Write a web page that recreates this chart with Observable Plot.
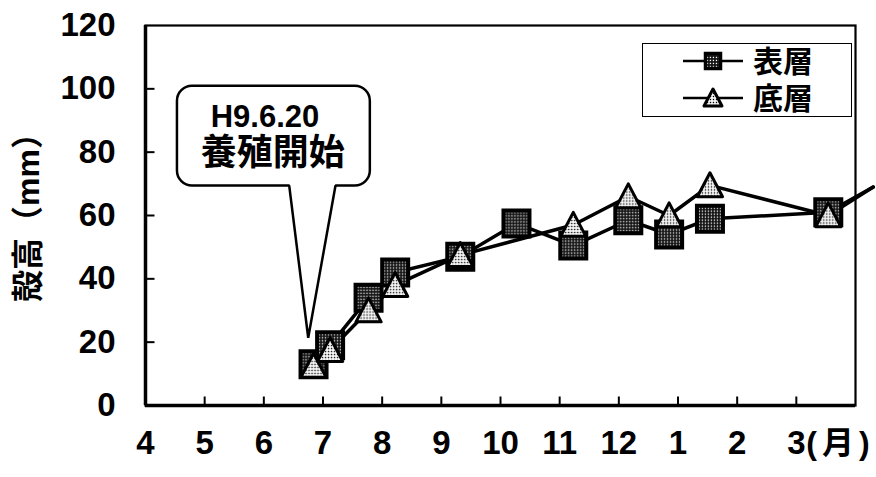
<!DOCTYPE html>
<html><head><meta charset="utf-8">
<script src="https://cdn.jsdelivr.net/npm/d3@7"></script>
<script src="https://cdn.jsdelivr.net/npm/@observablehq/plot@0.6"></script>
<style>
body{margin:0;background:#fff;}
#wrap{position:relative;width:876px;height:477px;}
</style></head><body>
<svg width="0" height="0" style="position:absolute"><defs>
<pattern id="sqPat" patternUnits="userSpaceOnUse" width="3" height="3"><rect width="3" height="3" fill="#111"/><rect x="0.8" y="0.8" width="1.3" height="1.3" fill="#fff"/></pattern>
<pattern id="triPat" patternUnits="userSpaceOnUse" width="3" height="3"><rect width="3" height="3" fill="#fff"/><rect x="0.8" y="0.8" width="1.4" height="1.4" fill="#000"/></pattern>
</defs></svg>
<div id="wrap"></div>
<script>
// ---- data ----
const monthLabels = ["4","5","6","7","8","9","10","11","12","1","2","3"];
const monthUnit = "(月)";
const yTicks = [0, 20, 40, 60, 80, 100, 120];
const seriesNames = ["表層", "底層"];
const yTitle = "殻高（mm）";
// sampling time, in months after 1 April
const surfaceX = [2.84, 3.12, 3.77, 4.22, 5.32, 6.27, 7.23, 8.16, 8.85, 9.54, 11.54, 12.3];
const surfaceY = [13, 19, 34, 42, 47, 57.5, 50.5, 58.5, 54, 59, 61, 69];
const bottomX = [2.84, 3.12, 3.77, 4.22, 5.32, 7.23, 8.16, 8.85, 9.54, 11.54, 12.3];
const bottomY = [12.5, 17.5, 30, 38, 47.5, 57, 66, 60, 69.5, 60, 69];
const calloutLines = ["H9.6.20", "養殖開始"];
const calloutBox = [{x1: 0.54, x2: 3.80, y1: 69.3, y2: 100.8}];
const calloutPointer = [[2.43, 69.3], [2.75, 21.4], [3.21, 69.3]];
const calloutTextAt = [[2.02, 91.0], [2.15, 79.7]];

// ---- build ----
const surface = surfaceX.map((x, i) => ({x, y: surfaceY[i]}));
const bottom = bottomX.map((x, i) => ({x, y: bottomY[i]}));
const inDomain = d => d.x <= 12;
const FONT = "'Liberation Sans', 'Noto Sans CJK JP', sans-serif";

const sqSym = {draw(ctx, size) { const r = Math.sqrt(size / Math.PI); ctx.rect(-r, -r, 2 * r, 2 * r); }};
const triSym = {draw(ctx, size) { const r = Math.sqrt(size / Math.PI); ctx.moveTo(0, -r); ctx.lineTo(r, 0.9 * r); ctx.lineTo(-r, 0.9 * r); ctx.closePath(); }};
const hTick = {draw(ctx) { ctx.moveTo(0, 0); ctx.lineTo(9, 0); }};
const vTick = {draw(ctx) { ctx.moveTo(0, 0); ctx.lineTo(0, -9); }};

const pointerFill = calloutPointer.map((p, i) => i === 1 ? p : [p[0], p[1] + 0.7]);

const plot = Plot.plot({
  width: 876, height: 477,
  marginLeft: 145, marginRight: 21, marginTop: 25, marginBottom: 72,
  x: {domain: [0, 12], axis: null},
  y: {domain: [0, 120], axis: null},
  style: {fontFamily: FONT, background: "white", overflow: "visible", color: "black"},
  marks: [
    Plot.frame({stroke: "black", strokeWidth: 2.2}),
    Plot.ruleX([0], {stroke: "black", strokeWidth: 3.5}),
    Plot.ruleY([0], {stroke: "black", strokeWidth: 3.5}),
    Plot.dot(monthLabels.slice(1), {x: (d, i) => i + 1, y: 0, symbol: vTick, r: 5, fill: "none", stroke: "black", strokeWidth: 2}),
    Plot.dot(yTicks.slice(1, -1), {x: 0, y: d => d, symbol: hTick, r: 5, fill: "none", stroke: "black", strokeWidth: 2}),
    Plot.text(yTicks, {y: d => d, frameAnchor: "left", dx: -30, textAnchor: "end", text: d => String(d), fontSize: 33, fontWeight: "bold", fill: "black"}),
    Plot.text(monthLabels, {x: (d, i) => i, frameAnchor: "bottom", dy: 48, text: d => d, fontSize: 33, fontWeight: "bold", fill: "black"}),
    Plot.text([monthUnit], {x: 11, frameAnchor: "bottom", dy: 48, dx: 10, textAnchor: "start", text: d => d, fontSize: 32, fontWeight: "bold", fill: "black"}),
    Plot.text([yTitle], {frameAnchor: "left", dx: -117, dy: -6, rotate: -90, textAnchor: "middle", text: d => d, fontSize: 32, fontWeight: "bold", fill: "black"}),
    // callout
    Plot.rect(calloutBox, {x1: "x1", x2: "x2", y1: "y1", y2: "y2", rx: 15, fill: "white", stroke: "black", strokeWidth: 2.5}),
    Plot.line(pointerFill, {x: d => d[0], y: d => d[1], fill: "white", stroke: "none"}),
    Plot.line(calloutPointer, {x: d => d[0], y: d => d[1], stroke: "black", strokeWidth: 2.5, strokeLinejoin: "miter"}),
    Plot.text([calloutLines[0]], {x: calloutTextAt[0][0], y: calloutTextAt[0][1], text: d => d, fontSize: 31, fontWeight: "bold", fill: "black"}),
    Plot.text([calloutLines[1]], {x: calloutTextAt[1][0], y: calloutTextAt[1][1], text: d => d, fontSize: 36, fontWeight: "bold", fill: "black"}),
    // series
    Plot.line(surface, {x: "x", y: "y", stroke: "black", strokeWidth: 3.5}),
    Plot.line(bottom, {x: "x", y: "y", stroke: "black", strokeWidth: 3.5}),
    Plot.dot(surface.filter(inDomain), {x: "x", y: "y", symbol: sqSym, r: 13, fill: "url(#sqPat)", stroke: "black", strokeWidth: 4}),
    Plot.dot(bottom.filter(inDomain), {x: "x", y: "y", symbol: triSym, r: 12.6, fill: "url(#triPat)", stroke: "black", strokeWidth: 3, strokeLinejoin: "round"})
  ]
});

// widen the "(月)" unit label like the original
d3.select(plot).selectAll("text").filter(function() { return this.textContent === monthUnit; })
  .style("letter-spacing", "5px");

const wrap = document.getElementById("wrap");
wrap.appendChild(plot);

// legend (overlay inside plot frame)
const ns = "http://www.w3.org/2000/svg";
const legend = document.createElement("div");
legend.style.cssText = "position:absolute;left:642px;top:43px;width:208px;height:72px;border:1.5px solid black;background:white;";
const lsvg = document.createElementNS(ns, "svg");
lsvg.setAttribute("width", 208); lsvg.setAttribute("height", 72);
lsvg.style.display = "block";
const rowY = [17, 54];
seriesNames.forEach((name, i) => {
  const y = rowY[i];
  const ln = document.createElementNS(ns, "line");
  ln.setAttribute("x1", 40); ln.setAttribute("x2", 100); ln.setAttribute("y1", y); ln.setAttribute("y2", y);
  ln.setAttribute("stroke", "black"); ln.setAttribute("stroke-width", 2.5);
  lsvg.appendChild(ln);
  let sym;
  if (i === 0) {
    sym = document.createElementNS(ns, "rect");
    sym.setAttribute("x", 62.5); sym.setAttribute("y", y - 7.5); sym.setAttribute("width", 15); sym.setAttribute("height", 15);
    sym.setAttribute("fill", "url(#sqPat)"); sym.setAttribute("stroke-width", 3.5);
  } else {
    sym = document.createElementNS(ns, "path");
    sym.setAttribute("d", `M70,${y - 9}L79,${y + 8}L61,${y + 8}Z`);
    sym.setAttribute("fill", "url(#triPat)"); sym.setAttribute("stroke-width", 3); sym.setAttribute("stroke-linejoin", "round");
  }
  sym.setAttribute("stroke", "black");
  lsvg.appendChild(sym);
  const t = document.createElementNS(ns, "text");
  t.setAttribute("x", 110); t.setAttribute("y", y);
  t.setAttribute("dominant-baseline", "central");
  t.setAttribute("font-family", FONT); t.setAttribute("font-size", 30); t.setAttribute("font-weight", "bold");
  t.textContent = name;
  lsvg.appendChild(t);
});
legend.appendChild(lsvg);
wrap.appendChild(legend);
</script>
</body></html>
